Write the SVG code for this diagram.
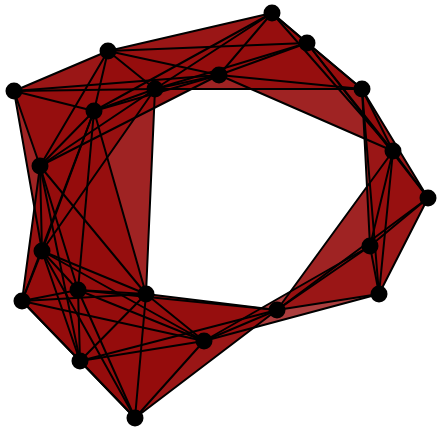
<svg xmlns="http://www.w3.org/2000/svg" width="437" height="428" viewBox="0 0 437 428">
<style>
.t{fill:#960d0d;fill-opacity:0.55;stroke:none}
.e path{stroke:#000;stroke-width:2;fill:none;stroke-linecap:round}
.n circle{fill:#000}
</style>
<rect width="437" height="428" fill="#fff"/>
<g id="faces">
<polygon class="t" points="108,51 14,91 155,89"/>
<polygon class="t" points="108,51 14,91 94,111"/>
<polygon class="t" points="108,51 14,91 40,166"/>
<polygon class="t" points="108,51 14,91 219,75"/>
<polygon class="t" points="108,51 155,89 94,111"/>
<polygon class="t" points="108,51 155,89 40,166"/>
<polygon class="t" points="108,51 155,89 219,75"/>
<polygon class="t" points="108,51 155,89 272,13"/>
<polygon class="t" points="108,51 155,89 307,43"/>
<polygon class="t" points="108,51 94,111 40,166"/>
<polygon class="t" points="108,51 94,111 219,75"/>
<polygon class="t" points="108,51 94,111 272,13"/>
<polygon class="t" points="108,51 40,166 219,75"/>
<polygon class="t" points="108,51 219,75 272,13"/>
<polygon class="t" points="108,51 219,75 307,43"/>
<polygon class="t" points="108,51 272,13 307,43"/>
<polygon class="t" points="14,91 155,89 94,111"/>
<polygon class="t" points="14,91 155,89 40,166"/>
<polygon class="t" points="14,91 155,89 219,75"/>
<polygon class="t" points="14,91 155,89 42,251"/>
<polygon class="t" points="14,91 94,111 40,166"/>
<polygon class="t" points="14,91 94,111 219,75"/>
<polygon class="t" points="14,91 94,111 42,251"/>
<polygon class="t" points="14,91 40,166 219,75"/>
<polygon class="t" points="14,91 40,166 42,251"/>
<polygon class="t" points="155,89 94,111 40,166"/>
<polygon class="t" points="155,89 94,111 219,75"/>
<polygon class="t" points="155,89 94,111 272,13"/>
<polygon class="t" points="155,89 94,111 42,251"/>
<polygon class="t" points="155,89 94,111 146,294"/>
<polygon class="t" points="155,89 40,166 219,75"/>
<polygon class="t" points="155,89 40,166 42,251"/>
<polygon class="t" points="155,89 40,166 146,294"/>
<polygon class="t" points="155,89 219,75 272,13"/>
<polygon class="t" points="155,89 219,75 307,43"/>
<polygon class="t" points="155,89 219,75 362,89"/>
<polygon class="t" points="155,89 272,13 307,43"/>
<polygon class="t" points="155,89 272,13 362,89"/>
<polygon class="t" points="155,89 307,43 362,89"/>
<polygon class="t" points="155,89 42,251 146,294"/>
<polygon class="t" points="94,111 40,166 219,75"/>
<polygon class="t" points="94,111 40,166 42,251"/>
<polygon class="t" points="94,111 40,166 78,290"/>
<polygon class="t" points="94,111 40,166 146,294"/>
<polygon class="t" points="94,111 40,166 22,301"/>
<polygon class="t" points="94,111 219,75 272,13"/>
<polygon class="t" points="94,111 42,251 78,290"/>
<polygon class="t" points="94,111 42,251 146,294"/>
<polygon class="t" points="94,111 42,251 22,301"/>
<polygon class="t" points="94,111 78,290 146,294"/>
<polygon class="t" points="94,111 78,290 22,301"/>
<polygon class="t" points="94,111 146,294 22,301"/>
<polygon class="t" points="40,166 42,251 78,290"/>
<polygon class="t" points="40,166 42,251 146,294"/>
<polygon class="t" points="40,166 42,251 22,301"/>
<polygon class="t" points="40,166 42,251 80,361"/>
<polygon class="t" points="40,166 78,290 146,294"/>
<polygon class="t" points="40,166 78,290 22,301"/>
<polygon class="t" points="40,166 78,290 80,361"/>
<polygon class="t" points="40,166 146,294 22,301"/>
<polygon class="t" points="40,166 146,294 80,361"/>
<polygon class="t" points="40,166 22,301 80,361"/>
<polygon class="t" points="219,75 272,13 307,43"/>
<polygon class="t" points="219,75 272,13 362,89"/>
<polygon class="t" points="219,75 272,13 393,151"/>
<polygon class="t" points="219,75 307,43 362,89"/>
<polygon class="t" points="219,75 307,43 393,151"/>
<polygon class="t" points="219,75 362,89 393,151"/>
<polygon class="t" points="272,13 307,43 362,89"/>
<polygon class="t" points="272,13 307,43 393,151"/>
<polygon class="t" points="272,13 362,89 393,151"/>
<polygon class="t" points="307,43 362,89 393,151"/>
<polygon class="t" points="307,43 362,89 428,198"/>
<polygon class="t" points="307,43 393,151 428,198"/>
<polygon class="t" points="362,89 393,151 428,198"/>
<polygon class="t" points="362,89 393,151 370,246"/>
<polygon class="t" points="362,89 393,151 379,294"/>
<polygon class="t" points="362,89 428,198 370,246"/>
<polygon class="t" points="362,89 428,198 379,294"/>
<polygon class="t" points="362,89 370,246 379,294"/>
<polygon class="t" points="393,151 428,198 370,246"/>
<polygon class="t" points="393,151 428,198 379,294"/>
<polygon class="t" points="393,151 428,198 277,310"/>
<polygon class="t" points="393,151 370,246 379,294"/>
<polygon class="t" points="393,151 370,246 277,310"/>
<polygon class="t" points="393,151 379,294 277,310"/>
<polygon class="t" points="428,198 370,246 379,294"/>
<polygon class="t" points="428,198 370,246 277,310"/>
<polygon class="t" points="428,198 379,294 277,310"/>
<polygon class="t" points="370,246 379,294 277,310"/>
<polygon class="t" points="370,246 379,294 204,341"/>
<polygon class="t" points="370,246 277,310 204,341"/>
<polygon class="t" points="379,294 277,310 204,341"/>
<polygon class="t" points="277,310 204,341 78,290"/>
<polygon class="t" points="277,310 204,341 146,294"/>
<polygon class="t" points="277,310 204,341 80,361"/>
<polygon class="t" points="277,310 204,341 135,418"/>
<polygon class="t" points="277,310 78,290 146,294"/>
<polygon class="t" points="277,310 78,290 80,361"/>
<polygon class="t" points="277,310 78,290 135,418"/>
<polygon class="t" points="277,310 146,294 80,361"/>
<polygon class="t" points="277,310 146,294 135,418"/>
<polygon class="t" points="277,310 80,361 135,418"/>
<polygon class="t" points="204,341 42,251 78,290"/>
<polygon class="t" points="204,341 42,251 146,294"/>
<polygon class="t" points="204,341 42,251 22,301"/>
<polygon class="t" points="204,341 42,251 80,361"/>
<polygon class="t" points="204,341 42,251 135,418"/>
<polygon class="t" points="204,341 78,290 146,294"/>
<polygon class="t" points="204,341 78,290 22,301"/>
<polygon class="t" points="204,341 78,290 80,361"/>
<polygon class="t" points="204,341 78,290 135,418"/>
<polygon class="t" points="204,341 146,294 22,301"/>
<polygon class="t" points="204,341 146,294 80,361"/>
<polygon class="t" points="204,341 146,294 135,418"/>
<polygon class="t" points="204,341 22,301 80,361"/>
<polygon class="t" points="204,341 22,301 135,418"/>
<polygon class="t" points="204,341 80,361 135,418"/>
<polygon class="t" points="42,251 78,290 146,294"/>
<polygon class="t" points="42,251 78,290 22,301"/>
<polygon class="t" points="42,251 78,290 80,361"/>
<polygon class="t" points="42,251 78,290 135,418"/>
<polygon class="t" points="42,251 146,294 22,301"/>
<polygon class="t" points="42,251 146,294 80,361"/>
<polygon class="t" points="42,251 146,294 135,418"/>
<polygon class="t" points="42,251 22,301 80,361"/>
<polygon class="t" points="42,251 22,301 135,418"/>
<polygon class="t" points="42,251 80,361 135,418"/>
<polygon class="t" points="78,290 146,294 22,301"/>
<polygon class="t" points="78,290 146,294 80,361"/>
<polygon class="t" points="78,290 146,294 135,418"/>
<polygon class="t" points="78,290 22,301 80,361"/>
<polygon class="t" points="78,290 22,301 135,418"/>
<polygon class="t" points="78,290 80,361 135,418"/>
<polygon class="t" points="146,294 22,301 80,361"/>
<polygon class="t" points="146,294 22,301 135,418"/>
<polygon class="t" points="146,294 80,361 135,418"/>
<polygon class="t" points="22,301 80,361 135,418"/>
</g>
<g id="connectors" class="e">
<path d="M108 51L14 91"/><path d="M108 51L155 89"/><path d="M108 51L94 111"/><path d="M108 51L40 166"/><path d="M108 51L219 75"/><path d="M108 51L272 13"/><path d="M108 51L307 43"/>
<path d="M14 91L155 89"/><path d="M14 91L94 111"/><path d="M14 91L40 166"/><path d="M14 91L219 75"/><path d="M14 91L42 251"/>
<path d="M155 89L94 111"/><path d="M155 89L40 166"/><path d="M155 89L219 75"/><path d="M155 89L272 13"/><path d="M155 89L307 43"/><path d="M155 89L362 89"/><path d="M155 89L42 251"/><path d="M155 89L146 294"/>
<path d="M94 111L40 166"/><path d="M94 111L219 75"/><path d="M94 111L272 13"/><path d="M94 111L42 251"/><path d="M94 111L78 290"/><path d="M94 111L146 294"/><path d="M94 111L22 301"/>
<path d="M40 166L219 75"/><path d="M40 166L42 251"/><path d="M40 166L78 290"/><path d="M40 166L146 294"/><path d="M40 166L22 301"/><path d="M40 166L80 361"/>
<path d="M219 75L272 13"/><path d="M219 75L307 43"/><path d="M219 75L362 89"/><path d="M219 75L393 151"/>
<path d="M272 13L307 43"/><path d="M272 13L362 89"/><path d="M272 13L393 151"/>
<path d="M307 43L362 89"/><path d="M307 43L393 151"/><path d="M307 43L428 198"/>
<path d="M362 89L393 151"/><path d="M362 89L428 198"/><path d="M362 89L370 246"/><path d="M362 89L379 294"/>
<path d="M393 151L428 198"/><path d="M393 151L370 246"/><path d="M393 151L379 294"/><path d="M393 151L277 310"/>
<path d="M428 198L370 246"/><path d="M428 198L379 294"/><path d="M428 198L277 310"/>
<path d="M370 246L379 294"/><path d="M370 246L277 310"/><path d="M370 246L204 341"/>
<path d="M379 294L277 310"/><path d="M379 294L204 341"/>
<path d="M277 310L204 341"/><path d="M277 310L78 290"/><path d="M277 310L146 294"/><path d="M277 310L80 361"/><path d="M277 310L135 418"/>
<path d="M204 341L42 251"/><path d="M204 341L78 290"/><path d="M204 341L146 294"/><path d="M204 341L22 301"/><path d="M204 341L80 361"/><path d="M204 341L135 418"/>
<path d="M42 251L78 290"/><path d="M42 251L146 294"/><path d="M42 251L22 301"/><path d="M42 251L80 361"/><path d="M42 251L135 418"/>
<path d="M78 290L146 294"/><path d="M78 290L22 301"/><path d="M78 290L80 361"/><path d="M78 290L135 418"/>
<path d="M146 294L22 301"/><path d="M146 294L80 361"/><path d="M146 294L135 418"/>
<path d="M22 301L80 361"/><path d="M22 301L135 418"/>
<path d="M80 361L135 418"/>
</g>
<g class="n">
<g id="nA"><circle cx="108" cy="51" r="8.5"/></g>
<g id="nB"><circle cx="14" cy="91" r="8.5"/></g>
<g id="nC"><circle cx="155" cy="89" r="8.5"/></g>
<g id="nD"><circle cx="94" cy="111" r="8.5"/></g>
<g id="nE"><circle cx="40" cy="166" r="8.5"/></g>
<g id="nF"><circle cx="219" cy="75" r="8.5"/></g>
<g id="nG"><circle cx="272" cy="13" r="8.5"/></g>
<g id="nH"><circle cx="307" cy="43" r="8.5"/></g>
<g id="nI"><circle cx="362" cy="89" r="8.5"/></g>
<g id="nJ"><circle cx="393" cy="151" r="8.5"/></g>
<g id="nK"><circle cx="428" cy="198" r="8.5"/></g>
<g id="nL"><circle cx="370" cy="246" r="8.5"/></g>
<g id="nM"><circle cx="379" cy="294" r="8.5"/></g>
<g id="nN"><circle cx="277" cy="310" r="8.5"/></g>
<g id="nO"><circle cx="204" cy="341" r="8.5"/></g>
<g id="nP"><circle cx="42" cy="251" r="8.5"/></g>
<g id="nQ"><circle cx="78" cy="290" r="8.5"/></g>
<g id="nR"><circle cx="146" cy="294" r="8.5"/></g>
<g id="nS"><circle cx="22" cy="301" r="8.5"/></g>
<g id="nT"><circle cx="80" cy="361" r="8.5"/></g>
<g id="nU"><circle cx="135" cy="418" r="8.5"/></g>
</g>
</svg>
